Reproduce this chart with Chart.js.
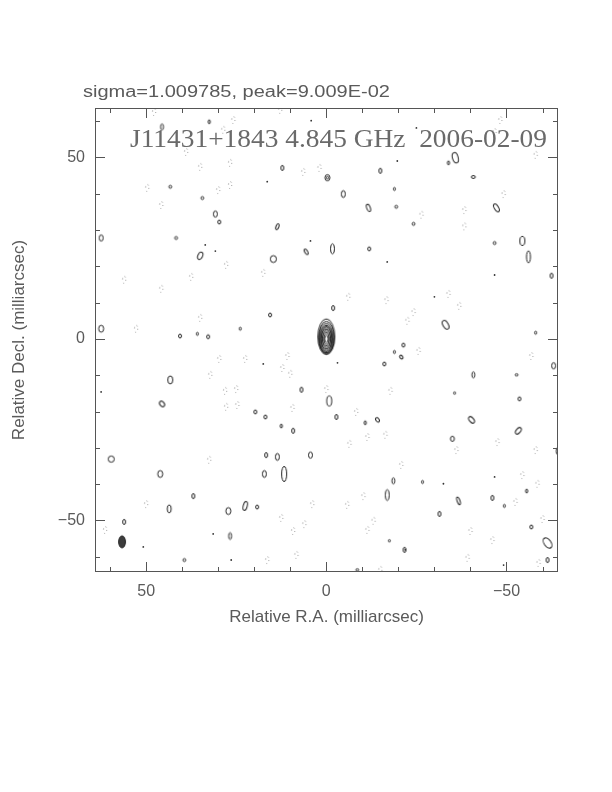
<!DOCTYPE html>
<html>
<head>
<meta charset="utf-8">
<script src="https://cdn.jsdelivr.net/npm/chart.js@4.4.1/dist/chart.umd.min.js"></script>
<style>
  html, body { margin: 0; padding: 0; background: #fff; }
</style>
</head>
<body>
<canvas id="map" width="612" height="792"></canvas>
<script>
// ---- map data (milliarcsec) ----
const xRange = [-64.3, 64.2];
const yRange = [-64.2, 63.6];
const tickValues = [-60, -50, -40, -30, -20, -10, 0, 10, 20, 30, 40, 50, 60];
const labeledTicks = [-50, 0, 50];

const sigmaText = 'sigma=1.009785, peak=9.009E-02';
const mapTitle = 'J11431+1843 4.845 GHz  2006-02-09';

// core component: nested contour semi-axes, outermost first
const coreSemiX = [2.35, 2.15, 1.98, 1.82, 1.66, 1.5, 1.32, 1.13, 0.92, 0.7, 0.46];
const coreSemiY = [4.9, 4.45, 4.1, 3.78, 3.45, 3.1, 2.74, 2.34, 1.92, 1.46, 0.96];
const coreShiftY = [0.6, 0.35, 0.15, 0, 0, 0, 0, 0, 0, 0, 0];

// restoring beam [x, y, width, height]
const beam = [56.7, -55.9, 1.9, 3.3];

// positive contour islands [x, y, width, height, tilt deg]
const positiveBlobs = [
  [45.6, 58.4, 0.8, 1.7, 0], [32.5, 59.8, 0.6, 1.1, 0], [43.3, 41.9, 0.8, 0.8, 0],
  [34.4, 38.8, 0.8, 0.8, 0], [30.8, 34.4, 1.1, 1.7, 0], [29.7, 32.2, 0.8, 1.1, 0],
  [62.5, 27.8, 1.1, 1.7, 0], [41.7, 27.8, 0.8, 0.8, 0], [35.0, 22.9, 1.3, 2.1, 25],
  [62.5, 2.8, 1.4, 1.9, 0], [40.6, 0.8, 0.8, 1.1, 0], [35.8, 1.4, 0.6, 0.8, 0],
  [32.8, 0.6, 0.8, 1.1, 0], [23.9, 2.8, 0.6, 0.8, 0], [12.2, 47.1, 0.8, 1.4, 0],
  [-0.3, 44.4, 1.4, 1.7, 0], [-0.3, 44.4, 0.6, 0.7, 0], [-4.7, 39.9, 1.1, 1.9, 0],
  [-15.0, 46.3, 0.8, 1.4, 0], [-18.9, 41.3, 0.6, 0.8, 0], [-11.7, 36.1, 1.0, 2.1, -20],
  [-19.4, 36.4, 0.8, 0.8, 0], [13.6, 30.9, 0.8, 1.7, 20], [5.6, 24.0, 0.8, 1.7, -30],
  [-1.7, 24.8, 1.1, 2.8, 0], [-11.9, 24.8, 0.8, 1.1, 0], [14.7, 22.0, 1.7, 1.9, 0],
  [-1.9, 8.5, 0.8, 1.4, 0], [15.6, 6.6, 0.8, 1.1, 0], [-35.8, 49.9, 1.6, 2.9, -15],
  [-33.9, 48.5, 0.6, 1.1, 0], [-40.8, 44.6, 1.1, 0.8, 0], [-47.2, 36.1, 1.2, 2.4, -30],
  [-24.2, 31.7, 0.8, 0.8, 0], [-46.7, 26.4, 0.8, 0.8, 0], [-54.4, 27.0, 1.4, 2.5, 0],
  [-56.1, 22.6, 1.1, 3.3, 0], [-62.5, 17.4, 0.8, 1.4, 0], [-33.1, 3.9, 1.5, 2.6, -30],
  [-58.1, 1.7, 0.6, 0.8, 0], [43.3, -11.3, 1.4, 2.2, 0], [45.6, -17.9, 1.2, 1.7, -40],
  [59.7, -33.1, 1.7, 1.7, 0], [46.1, -37.2, 1.4, 1.9, 0], [36.9, -43.3, 0.8, 1.4, 0],
  [43.6, -46.8, 1.1, 2.2, 0], [27.2, -47.4, 1.4, 1.9, 0], [22.5, -46.0, 1.1, 2.5, 15],
  [56.1, -50.4, 0.8, 1.4, 0], [26.7, -54.3, 0.8, 1.9, 0], [39.4, -60.9, 0.8, 0.8, 0],
  [-21.4, -1.7, 0.8, 1.1, 0], [-18.9, -3.6, 0.6, 0.8, 0], [-20.8, -5.0, 0.8, 1.1, -40],
  [-16.1, -6.9, 0.8, 1.1, 0], [6.9, -14.0, 0.8, 1.4, 0], [-0.8, -17.1, 1.4, 2.8, 0],
  [19.7, -20.1, 0.8, 1.1, 0], [16.9, -21.5, 0.8, 1.1, 0], [-2.8, -21.5, 0.8, 1.4, 0],
  [-10.8, -23.1, 0.6, 1.1, 0], [-14.2, -22.3, 0.9, 1.3, -40], [12.5, -24.0, 0.6, 1.1, 0],
  [9.2, -25.3, 0.8, 1.4, 0], [16.7, -32.0, 0.8, 1.4, 0], [13.6, -32.5, 1.1, 1.9, 0],
  [4.4, -32.0, 1.1, 1.7, 0], [17.2, -37.2, 1.1, 1.9, 0], [11.7, -37.2, 1.4, 4.2, 0],
  [-18.6, -39.1, 0.8, 1.7, 0], [-16.9, -43.0, 1.1, 3.0, 0], [19.2, -46.3, 0.8, 1.1, 0],
  [-17.5, -55.6, 0.6, 0.6, 0], [-21.7, -58.1, 0.8, 1.4, 0], [-8.6, -63.6, 0.8, 0.6, 0],
  [-63.1, -7.4, 1.1, 1.7, 0], [-40.8, -9.9, 0.8, 1.7, 0], [-52.8, -9.9, 0.8, 0.6, 0],
  [-35.6, -14.9, 0.6, 0.6, 0], [-53.6, -16.5, 0.8, 1.1, 0], [-40.3, -22.3, 1.2, 2.1, -40],
  [-53.3, -25.3, 1.2, 2.1, 40], [-35.0, -27.5, 1.1, 1.4, 0], [-64.2, -30.9, 0.8, 1.9, 0],
  [-26.7, -39.4, 0.6, 0.8, 0], [-55.6, -41.9, 0.6, 1.1, 0], [-36.7, -44.6, 0.8, 2.2, -20],
  [-46.1, -43.8, 0.8, 1.4, 0], [-49.4, -46.0, 0.6, 0.8, 0], [-31.4, -48.2, 0.8, 1.4, 0],
  [-56.9, -51.8, 0.8, 1.1, 0], [-61.4, -56.2, 1.9, 3.2, -35], [-61.4, -60.9, 0.8, 1.4, 0]
];

// negative contour islands [x, y]
const negativeBlobs = [
  [47.8, 62.5], [25.8, 60.3], [28.6, 57.6], [38.9, 51.5], [35.0, 47.4], [26.7, 48.5],
  [49.7, 41.6], [30.0, 41.0], [26.7, 42.4], [45.8, 36.9], [27.8, 20.4], [37.5, 17.1],
  [56.1, 16.3], [45.8, 13.8], [35.0, 5.8], [52.8, 2.8], [6.4, 46.0], [1.9, 47.1],
  [17.5, 18.2], [-6.1, 11.6], [-16.7, 10.7], [-22.5, 5.0], [12.8, 63.1], [-48.3, 60.3],
  [-46.7, 57.0], [-58.1, 50.7], [-49.2, 39.9], [-38.3, 35.5], [-38.3, 31.0], [-26.4, 34.2],
  [-33.9, 12.4], [-36.9, 9.1], [-24.2, 7.4], [29.7, -5.5], [22.5, -5.5], [32.2, -9.9],
  [28.1, -14.3], [25.0, -13.8], [27.8, -18.7], [24.7, -18.2], [32.5, -33.3], [50.0, -45.5],
  [61.4, -52.6], [10.8, -4.7], [12.2, -8.0], [10.0, -9.6], [0.0, -13.8], [9.4, -19.0],
  [-8.3, -20.1], [-16.4, -26.4], [-11.4, -27.0], [-6.4, -28.9], [-17.8, -14.3], [-20.8, -34.7],
  [-10.3, -43.3], [-5.8, -45.7], [3.9, -45.5], [12.5, -49.3], [6.1, -51.0], [9.2, -52.9],
  [-11.4, -52.6], [-13.1, -50.1], [8.3, -59.5], [16.4, -60.9], [-15.0, -63.6], [-25.6, -3.3],
  [-56.9, -4.7], [-47.5, -28.4], [-36.1, -30.6], [-58.1, -30.6], [-54.4, -37.5], [-58.6, -39.9],
  [-52.5, -44.9], [-60.0, -49.6], [-40.0, -52.9], [-46.1, -55.4], [-39.2, -60.3], [-58.9, -61.7]
];

// single-pixel islands [x, y]
const specks = [
  [30.8, 24.2], [4.2, 60.1], [-19.7, 49.0], [4.4, 27.0], [-16.9, 21.2], [16.4, 43.3],
  [-25.0, 58.1], [-46.7, 17.6], [-30.0, 11.6], [62.5, -14.6], [50.8, -57.3], [31.4, -53.7],
  [26.4, -60.9], [17.5, -6.9], [-3.1, -6.6], [-32.5, -39.9], [-46.7, -38.0], [-21.9, -58.1],
  [-49.2, -62.3], [33.6, 25.9]
];

// ---- helpers ----
const INK = '#222';
const TEXT = '#5a5a5a';
const imgCache = {};

function masScale(chart) {
  const xs = chart.scales.x, ys = chart.scales.y;
  if (!xs || !ys || !xs.width) return { sx: 3.6, sy: 3.63 };
  return {
    sx: Math.abs(xs.getPixelForValue(10) - xs.getPixelForValue(0)) / 10,
    sy: Math.abs(ys.getPixelForValue(10) - ys.getPixelForValue(0)) / 10
  };
}

function ellipseImage(wPx, hPx, tilt, kind) {
  const key = [wPx.toFixed(1), hPx.toFixed(1), tilt, kind].join('|');
  if (imgCache[key]) return imgCache[key];
  const size = Math.ceil(Math.max(wPx, hPx)) + 6;
  const c = document.createElement('canvas');
  c.width = size; c.height = size;
  const g = c.getContext('2d');
  g.translate(size / 2, size / 2);
  g.rotate(tilt * Math.PI / 180);
  g.beginPath();
  g.ellipse(0, 0, Math.max(wPx / 2, 0.8), Math.max(hPx / 2, 0.8), 0, 0, Math.PI * 2);
  g.lineWidth = 1;
  if (kind === 'beam') {
    g.fillStyle = '#3c3c3c';
    g.fill();
    g.strokeStyle = INK;
    g.stroke();
  } else if (kind === 'neg') {
    g.setLineDash([1, 3.4]);
    g.strokeStyle = '#888';
    g.stroke();
  } else {
    g.strokeStyle = INK;
    g.stroke();
  }
  imgCache[key] = c;
  return c;
}

function blobStyle(kind) {
  return (ctx) => {
    if (ctx.type !== 'data') return 'circle';
    const r = ctx.raw;
    const k = masScale(ctx.chart);
    return ellipseImage(r.w * k.sx, r.h * k.sy, r.t, kind);
  };
}

function fitText(g, text, x, y, width, font) {
  g.font = font;
  const w = g.measureText(text).width;
  g.save();
  g.translate(x, y);
  g.scale(width / w, 1);
  g.fillText(text, 0, 0);
  g.restore();
}

function fmt(v) {
  return v < 0 ? '\u2212' + Math.abs(v) : String(v);
}

// frame, inward ticks and the text inside the map
const framePlugin = {
  id: 'frame',
  afterDatasetsDraw(chart) {
    const { ctx, chartArea: a, scales: { x, y } } = chart;
    ctx.save();
    ctx.textBaseline = 'alphabetic';
    ctx.fillStyle = '#6a6a6a';
    fitText(ctx, mapTitle, 130, 147, 417, '25px "Liberation Serif"');
    ctx.fillStyle = TEXT;
    fitText(ctx, sigmaText, 83, 97, 307, '16px "Liberation Sans"');

    ctx.strokeStyle = '#555';
    ctx.lineWidth = 1;
    ctx.strokeRect(Math.round(a.left) + 0.5, Math.round(a.top) + 0.5,
                   Math.round(a.right - a.left) - 1, Math.round(a.bottom - a.top) - 1);
    ctx.beginPath();
    tickValues.forEach(v => {
      const len = v % 50 === 0 ? 10 : 5;
      const px = Math.round(x.getPixelForValue(v)) + 0.5;
      ctx.moveTo(px, a.bottom); ctx.lineTo(px, a.bottom - len);
      ctx.moveTo(px, a.top); ctx.lineTo(px, a.top + len);
      const py = Math.round(y.getPixelForValue(v)) + 0.5;
      ctx.moveTo(a.left, py); ctx.lineTo(a.left + len, py);
      ctx.moveTo(a.right, py); ctx.lineTo(a.right - len, py);
    });
    ctx.stroke();
    ctx.restore();
  }
};

const toPoints = rows => rows.map(r => ({ x: r[0], y: r[1], w: r[2], h: r[3], t: r[4] || 0 }));

const coreData = coreSemiX.map((sx, i) => ({ x: 0, y: coreShiftY[i], w: 2 * sx, h: 2 * coreSemiY[i], t: 0 }));
const negData = negativeBlobs.map(r => ({ x: r[0], y: r[1], w: 0.9, h: 2.0, t: 0 }));

const blobDataset = (label, data, kind) => ({
  label, data,
  pointStyle: blobStyle(kind),
  pointRadius: 3,
  pointBorderWidth: 0,
  clip: 0
});

const axisTicks = {
  color: TEXT,
  font: { family: '"Liberation Sans"', size: 16 },
  autoSkip: false,
  maxRotation: 0,
  callback: v => (labeledTicks.includes(v) ? fmt(v) : '')
};

new Chart(document.getElementById('map'), {
  type: 'scatter',
  data: {
    datasets: [
      blobDataset('core', coreData, 'pos'),
      blobDataset('positive', toPoints(positiveBlobs), 'pos'),
      blobDataset('negative', negData, 'neg'),
      blobDataset('beam', [{ x: beam[0], y: beam[1], w: beam[2], h: beam[3], t: 0 }], 'beam'),
      {
        label: 'specks',
        data: specks.map(r => ({ x: r[0], y: r[1] })),
        pointStyle: 'circle',
        pointRadius: 0.9,
        pointBorderWidth: 0,
        pointBackgroundColor: '#333',
        clip: 0
      }
    ]
  },
  options: {
    responsive: false,
    animation: false,
    devicePixelRatio: 1,
    events: [],
    layout: { padding: { top: 108, right: 54, left: 0, bottom: 0 } },
    plugins: { legend: { display: false }, tooltip: { enabled: false } },
    scales: {
      x: {
        type: 'linear',
        min: xRange[0], max: xRange[1],
        reverse: true,
        grid: { display: false, drawTicks: false },
        border: { display: false },
        afterBuildTicks: s => { s.ticks = tickValues.map(v => ({ value: v })); },
        afterFit: s => { s.height = 220; },
        ticks: { ...axisTicks, padding: 10 },
        title: {
          display: true,
          text: 'Relative R.A. (milliarcsec)',
          color: TEXT,
          font: { family: '"Liberation Sans"', size: 17 },
          padding: { top: 0, bottom: 164 }
        }
      },
      y: {
        type: 'linear',
        min: yRange[0], max: yRange[1],
        grid: { display: false, drawTicks: false },
        border: { display: false },
        afterBuildTicks: s => { s.ticks = tickValues.map(v => ({ value: v })); },
        afterFit: s => { s.width = 95; },
        ticks: { ...axisTicks, padding: 10 },
        title: {
          display: true,
          text: 'Relative Decl. (milliarcsec)',
          color: TEXT,
          font: { family: '"Liberation Sans"', size: 17 },
          padding: { top: 9, bottom: 0 }
        }
      }
    }
  },
  plugins: [framePlugin]
});
</script>
</body>
</html>
